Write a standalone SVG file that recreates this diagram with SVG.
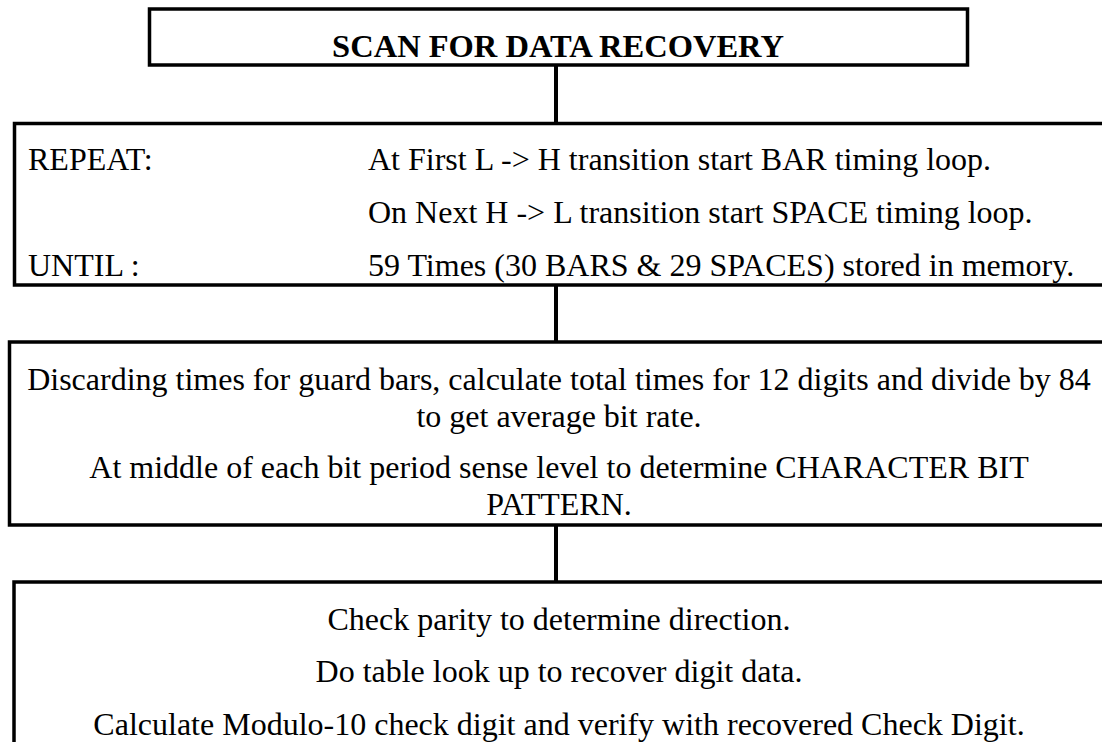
<svg xmlns="http://www.w3.org/2000/svg" width="1102" height="742" viewBox="0 0 1102 742">
<style>
.box{fill:#fff;stroke:#000;stroke-width:3.5}
.t{font-family:"Liberation Serif","Times New Roman",Times,serif;font-size:32px;fill:#000}
.c{text-anchor:middle}
.title{font-family:"Liberation Serif","Times New Roman",Times,serif;font-size:32.5px;font-weight:bold;fill:#000;text-anchor:middle}
.conn{stroke:#000;stroke-width:4;fill:none}
</style>
<rect width="1102" height="742" fill="#fff"/>
<g id="connectors">
<line class="conn" x1="556" y1="65" x2="556" y2="123"/>
<line class="conn" x1="556" y1="285" x2="556" y2="342"/>
<line class="conn" x1="556" y1="525" x2="556" y2="582"/>
</g>
<g id="node-title">
<rect class="box" x="149.5" y="9" width="818" height="56"/>
<text class="title" x="558" y="57">SCAN FOR DATA RECOVERY</text>
</g>
<g id="node-repeat">
<rect class="box" x="14.5" y="123.5" width="1100" height="161.5"/>
<text class="t" x="28" y="170">REPEAT:</text>
<text class="t" x="368" y="170">At First L -&gt; H transition start BAR timing loop.</text>
<text class="t" x="368" y="223">On Next H -&gt; L transition start SPACE timing loop.</text>
<text class="t" x="28" y="276">UNTIL :</text>
<text class="t" x="368" y="276">59 Times (30 BARS &amp; 29 SPACES) stored in memory.</text>
</g>
<g id="node-average">
<rect class="box" x="9.5" y="342" width="1100" height="183"/>
<text class="t c" x="559" y="390">Discarding times for guard bars, calculate total times for 12 digits and divide by 84</text>
<text class="t c" x="559" y="427">to get average bit rate.</text>
<text class="t c" x="559" y="478">At middle of each bit period sense level to determine CHARACTER BIT</text>
<text class="t c" x="559" y="515">PATTERN.</text>
</g>
<g id="node-check">
<rect class="box" x="14" y="582" width="1100" height="200"/>
<text class="t c" x="559" y="630">Check parity to determine direction.</text>
<text class="t c" x="559" y="682">Do table look up to recover digit data.</text>
<text class="t c" x="559" y="735">Calculate Modulo-10 check digit and verify with recovered Check Digit.</text>
</g>
</svg>
